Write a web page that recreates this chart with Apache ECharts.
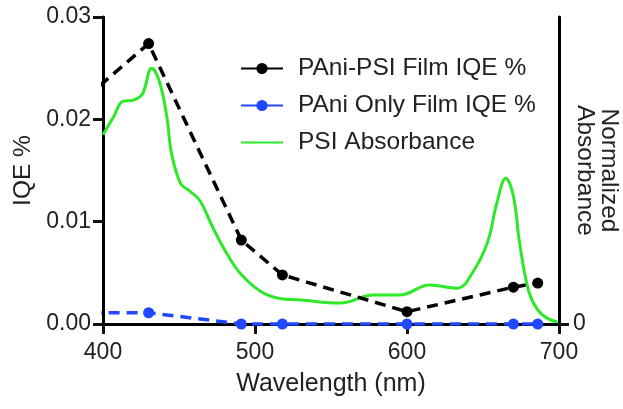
<!DOCTYPE html>
<html>
<head>
<meta charset="utf-8">
<script src="https://cdn.jsdelivr.net/npm/echarts@6/dist/echarts.min.js"></script>
<style>
  html, body { margin: 0; padding: 0; background: #fff; }
  #myChart { width: 623px; height: 409px; }
</style>
</head>
<body>
<div id="myChart"></div>
<script>
// IQE points (wavelength nm, IQE %); first point sits left of the axis and gets clipped
var iqeWave = [380, 430, 491, 518, 600, 670, 686];
var psiFilmIqe = [0.0210, 0.0274, 0.0082, 0.0048, 0.0012, 0.0036, 0.0040];
var paniOnlyIqe = [0.0011, 0.0011, 0.0000, 0.0000, 0.0000, 0.0000, 0.0000];

// PSI absorbance trace, normalized
var absWave = [400, 407, 413, 420, 426, 432, 437, 442, 445, 451, 457, 464, 472, 481, 490, 503, 516, 530,
  556, 578, 595, 615, 633, 643, 653, 659, 665, 670, 674, 680, 686, 692, 699];
var absValue = [0.74, 0.81, 0.87, 0.875, 0.90, 1.0, 0.95, 0.81, 0.67, 0.55, 0.52, 0.48, 0.38, 0.28, 0.20, 0.13, 0.10, 0.094,
  0.082, 0.113, 0.113, 0.152, 0.14, 0.20, 0.32, 0.47, 0.57, 0.50, 0.32, 0.13, 0.055, 0.023, 0.008];

var xTicks = [400, 500, 600, 700];
var iqeTicks = [0, 0.01, 0.02, 0.03];

function pairs(xs, ys) {
  var out = [];
  for (var i = 0; i < xs.length; i++) out.push([xs[i], ys[i]]);
  return out;
}

var font = 'Liberation Sans';

var myChart = echarts.init(document.getElementById('myChart'));
var option = {
  animation: false,
  textStyle: { fontFamily: font },
  grid: { left: 103, right: 64, top: 17, bottom: 85, outerBoundsMode: 'none' },
  legend: {
    left: 240,
    top: 56,
    padding: 0,
    orient: 'vertical',
    itemWidth: 42,
    itemHeight: 14,
    itemGap: 12,
    lineStyle: { type: 'solid' },
    textStyle: { fontSize: 24.5, lineHeight: 24, color: '#222', padding: [0, 0, 0, 10] },
    data: [
      'PAni-PSI Film IQE %',
      'PAni Only Film IQE %',
      { name: 'PSI Absorbance', itemStyle: { opacity: 0 } }
    ]
  },
  xAxis: {
    type: 'value',
    min: xTicks[0],
    max: xTicks[xTicks.length - 1],
    interval: 100,
    name: 'Wavelength (nm)',
    nameLocation: 'middle',
    nameGap: 48,
    nameTextStyle: { fontSize: 25, color: '#222' },
    axisLine: { show: true, lineStyle: { color: '#000', width: 3 } },
    axisTick: { show: true, length: 10, lineStyle: { color: '#111', width: 3 } },
    axisLabel: { fontSize: 23, color: '#222', margin: 17 },
    splitLine: { show: false }
  },
  yAxis: [
    {
      type: 'value',
      min: iqeTicks[0],
      max: iqeTicks[iqeTicks.length - 1],
      interval: 0.01,
      name: 'IQE %',
      nameLocation: 'middle',
      nameGap: 66,
      nameTextStyle: { fontSize: 24.5, color: '#222' },
      axisLine: { show: true, lineStyle: { color: '#000', width: 3 } },
      axisTick: { show: true, length: 10, lineStyle: { color: '#111', width: 3 } },
      axisLabel: { fontSize: 23, color: '#222', margin: 12, formatter: function (v) { return v.toFixed(2); } },
      splitLine: { show: false }
    },
    {
      type: 'value',
      position: 'right',
      min: 0,
      max: 1.2,
      name: 'Normalized\nAbsorbance',
      nameLocation: 'middle',
      nameRotate: -90,
      nameGap: 14,
      nameMoveOverlap: false,
      nameTextStyle: { fontSize: 24.5, color: '#222', lineHeight: 24 },
      axisLine: { show: true, lineStyle: { color: '#000', width: 3 } },
      axisTick: { show: true, length: 10, customValues: [0], lineStyle: { color: '#111', width: 3 } },
      axisLabel: { fontSize: 23, color: '#222', margin: 14, customValues: [0] },
      splitLine: { show: false }
    }
  ],
  series: [
    {
      name: 'PSI Absorbance',
      type: 'line',
      yAxisIndex: 1,
      smooth: 0.4,
      symbol: 'none',
      lineStyle: { color: '#2ee82a', width: 3 },
      itemStyle: { color: '#2ee82a' },
      data: pairs(absWave, absValue),
      z: 2
    },
    {
      name: 'PAni-PSI Film IQE %',
      type: 'line',
      symbol: 'circle',
      symbolSize: 11,
      lineStyle: { color: '#000', width: 3.5, type: [11, 7] },
      itemStyle: { color: '#000' },
      data: pairs(iqeWave, psiFilmIqe),
      z: 3
    },
    {
      name: 'PAni Only Film IQE %',
      type: 'line',
      symbol: 'circle',
      symbolSize: 11,
      lineStyle: { color: '#1f48ff', width: 3.5, type: [11, 7] },
      itemStyle: { color: '#1f48ff' },
      data: pairs(iqeWave, paniOnlyIqe),
      z: 4
    }
  ]
};
myChart.setOption(option);
</script>
</body>
</html>
